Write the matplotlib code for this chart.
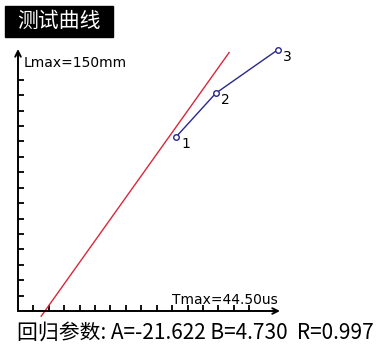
import numpy as np
import matplotlib.pyplot as plt
from matplotlib.patches import Rectangle

plt.rcParams['font.family'] = ['Noto Sans CJK SC', 'DejaVu Sans']

# measured points (time in us, length in mm)
t_points = [26.8, 33.6, 44.1]
l_points = [99.5, 124.7, 149.5]
point_labels = ["1", "2", "3"]

# regression parameters L = A + B*T
A = -21.622
B = 4.730
R = 0.997

t_max = 44.50
l_max = 150
n_ticks = 15
n_units = 17

fig = plt.figure(figsize=(3.77, 3.46), dpi=100)
ax = fig.add_axes([18 / 377, 35 / 346, 262 / 377, 262 / 346])
ax.set_xlim(0, t_max)
ax.set_ylim(0, l_max)

for s in ax.spines.values():
    s.set_visible(False)

# axes with open arrow heads
ax.annotate("", xy=(t_max, 0), xytext=(0, 0),
            arrowprops=dict(arrowstyle="->", lw=1.4, color="black",
                            shrinkA=0, shrinkB=0), annotation_clip=False)
ax.annotate("", xy=(0, l_max), xytext=(0, 0),
            arrowprops=dict(arrowstyle="->", lw=1.4, color="black",
                            shrinkA=0, shrinkB=0), annotation_clip=False)

xt = [i * t_max / n_units for i in range(1, n_ticks + 1)]
yt = [i * l_max / n_units for i in range(1, n_ticks + 1)]
ax.set_xticks(xt)
ax.set_yticks(yt)
ax.tick_params(direction="in", length=4, width=1.3, labelbottom=False,
               labelleft=False)

# regression line
l_line = np.array([-3, 148])
t_line = (l_line - A) / B
ax.plot(t_line, l_line, color="#d42a3c", lw=1, clip_on=False)

# measured curve
ax.plot(t_points, l_points, color="#28288e", lw=1, marker="o", markersize=4,
        markerfacecolor="white", markeredgewidth=1, clip_on=False)
for t, l, lab in zip(t_points, l_points, point_labels):
    ax.annotate(lab, (t, l), xytext=(4, -5), textcoords="offset points",
                fontsize=10, ha="left", va="center", family="DejaVu Sans")

fig.text(24 / 377, 1 - 63 / 346, "Lmax=150mm", fontsize=10,
         family="DejaVu Sans", va="center", ha="left")
fig.text(172 / 377, 1 - 300 / 346, "Tmax=44.50us", fontsize=10,
         family="DejaVu Sans", va="center", ha="left")

# title box
fig.patches.append(Rectangle((5 / 377, 1 - 37 / 346), 108 / 377, 31 / 346,
                             transform=fig.transFigure, color="black"))
fig.text(59 / 377, 1 - 21 / 346, "测试曲线", color="white", fontsize=15,
         ha="center", va="center")

fig.text(17 / 377, 1 - 333 / 346,
         "回归参数: A={:.3f} B={:.3f}  R={:.3f}".format(A, B, R),
         fontsize=15, ha="left", va="center")

fig.savefig("out.png", dpi=100)
plt.close(fig)
